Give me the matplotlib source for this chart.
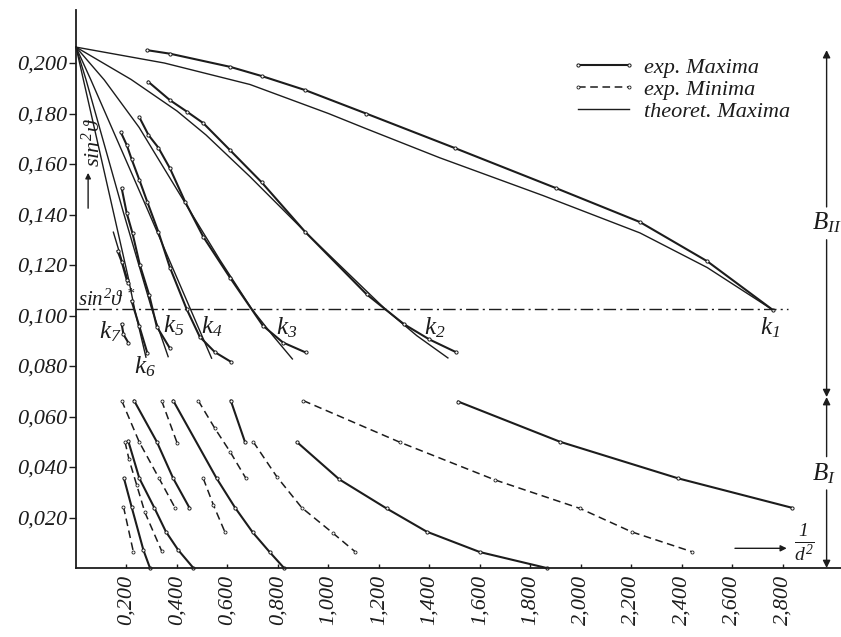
import matplotlib
matplotlib.use("Agg")
import matplotlib.pyplot as plt

plt.rcParams['font.family'] = ['Liberation Serif', 'DejaVu Serif']
plt.rcParams['font.style'] = 'italic'
plt.rcParams['mathtext.fontset'] = 'custom'
plt.rcParams['mathtext.rm'] = 'Liberation Serif:italic'
plt.rcParams['mathtext.it'] = 'Liberation Serif:italic'
plt.rcParams['mathtext.bf'] = 'Liberation Serif:italic:bold'

INK = '#1c1c1c'

# ---- axis ticks -------------------------------------------------------
x_ticks = [0.2, 0.4, 0.6, 0.8, 1.0, 1.2, 1.4, 1.6, 1.8, 2.0, 2.2, 2.4, 2.6, 2.8]
x_tick_labels = ['0,200', '0,400', '0,600', '0,800', '1,000', '1,200', '1,400',
                 '1,600', '1,800', '2,000', '2,200', '2,400', '2,600', '2,800']
y_ticks = [0.02, 0.04, 0.06, 0.08, 0.10, 0.12, 0.14, 0.16, 0.18, 0.20]
y_tick_labels = ['0,020', '0,040', '0,060', '0,080', '0,100',
                 '0,120', '0,140', '0,160', '0,180', '0,200']

# ---- region B_II : maxima converging to the k-points ---------------------
sin2_star = 0.1026          # critical sin^2(theta*)
sin2_star_xmax = 2.82

th1_x = [0, 0.35, 0.689, 1.0, 1.149, 1.44, 1.85, 2.234, 2.50, 2.76]
th1_y = [0.2063, 0.2000, 0.1915, 0.1800, 0.1740, 0.1625, 0.1475, 0.1327, 0.1190, 0.1022]
ex1_x = [0.281, 0.372, 0.610, 0.737, 0.907, 1.149, 1.501, 1.90, 2.234, 2.50, 2.76]
ex1_y = [0.2051, 0.2037, 0.1985, 0.1948, 0.1893, 0.1800, 0.1663, 0.1505, 0.1370, 0.1215, 0.1022]

th2_x = [0, 0.218, 0.40, 0.515, 0.689, 0.907, 1.224, 1.35, 1.473]
th2_y = [0.2063, 0.1935, 0.1810, 0.1715, 0.1550, 0.1332, 0.1026, 0.0920, 0.0832]
ex2_x = [0.286, 0.372, 0.440, 0.504, 0.610, 0.735, 0.907, 1.151, 1.30, 1.40, 1.507]
ex2_y = [0.1926, 0.1853, 0.1807, 0.1762, 0.1655, 0.1528, 0.1332, 0.1084, 0.0965, 0.0905, 0.0854]

th3_x = [0, 0.112, 0.25, 0.449, 0.57, 0.696, 0.78, 0.857]
th3_y = [0.2063, 0.1933, 0.1745, 0.1418, 0.1220, 0.1026, 0.0920, 0.0828]
ex3_x = [0.251, 0.287, 0.326, 0.372, 0.432, 0.504, 0.610, 0.74, 0.82, 0.909]
ex3_y = [0.1785, 0.1715, 0.1665, 0.1583, 0.1451, 0.1312, 0.1150, 0.0960, 0.0893, 0.0854]

th4_x = [0, 0.059, 0.284, 0.537]
th4_y = [0.2063, 0.1933, 0.1418, 0.0831]
ex4_x = [0.178, 0.201, 0.220, 0.251, 0.282, 0.326, 0.372, 0.438, 0.49, 0.55, 0.613]
ex4_y = [0.1725, 0.1675, 0.1620, 0.1537, 0.1451, 0.1332, 0.1190, 0.1026, 0.0916, 0.0855, 0.0817]

th5_x = [0, 0.040, 0.185, 0.30, 0.365]
th5_y = [0.2063, 0.1933, 0.1418, 0.1026, 0.0837]
ex5_x = [0.181, 0.201, 0.224, 0.253, 0.290, 0.320, 0.372]
ex5_y = [0.1504, 0.1405, 0.1325, 0.1200, 0.1081, 0.0956, 0.0870]

th6_x = [0, 0.207, 0.232, 0.277]
th6_y = [0.2063, 0.1150, 0.1026, 0.0835]
ex6a_x = [0.165, 0.181, 0.201, 0.207]
ex6a_y = [0.1255, 0.1213, 0.1141, 0.1128]
ex6b_x = [0.220, 0.250, 0.283]
ex6b_y = [0.1058, 0.0960, 0.0850]

th7_x = [0.148, 0.207]
th7_y = [0.1330, 0.1134]
ex7_x = [0.181, 0.188, 0.207]
ex7_y = [0.0966, 0.0925, 0.0893]

k_names = ['1', '2', '3', '4', '5', '6', '7']
k_label_x = [2.75, 1.422, 0.834, 0.537, 0.385, 0.273, 0.135]
k_label_y = [0.0950, 0.0950, 0.0950, 0.0956, 0.0958, 0.0797, 0.0936]

# ---- region B_I : experimental maxima (solid) and minima (dashed) -------
s1_x = [1.514, 1.917, 2.385, 2.834]
s1_y = [0.0659, 0.0500, 0.0355, 0.0239]
s2_x = [0.876, 1.043, 1.230, 1.389, 1.600, 1.864]
s2_y = [0.0498, 0.0351, 0.0236, 0.0144, 0.0063, 0.0]
s3_x = [0.613, 0.669]
s3_y = [0.0663, 0.0500]
s4_x = [0.385, 0.557, 0.630, 0.700, 0.768, 0.824]
s4_y = [0.0663, 0.0355, 0.0239, 0.0141, 0.0062, 0.0]
s5_x = [0.230, 0.320, 0.385, 0.449]
s5_y = [0.0663, 0.0500, 0.0355, 0.0239]
s6_x = [0.207, 0.251, 0.310, 0.356, 0.405, 0.465]
s6_y = [0.0503, 0.0355, 0.0239, 0.0144, 0.0071, 0.0]
s7_x = [0.190, 0.220, 0.267, 0.293]
s7_y = [0.0355, 0.0243, 0.0071, 0.0]

d1_x = [0.900, 1.283, 1.659, 1.996, 2.201, 2.438]
d1_y = [0.0663, 0.0498, 0.0349, 0.0236, 0.0143, 0.0065]
d2_x = [0.702, 0.795, 0.894, 1.019, 1.105]
d2_y = [0.0500, 0.0362, 0.0239, 0.0137, 0.0065]
d3_x = [0.484, 0.550, 0.610, 0.673]
d3_y = [0.0663, 0.0553, 0.0461, 0.0355]
d4_x = [0.504, 0.544, 0.590]
d4_y = [0.0355, 0.0250, 0.0142]
d5_x = [0.339, 0.401]
d5_y = [0.0663, 0.0494]
d6_x = [0.181, 0.250, 0.329, 0.392]
d6_y = [0.0663, 0.0500, 0.0355, 0.0239]
d7_x = [0.194, 0.210, 0.240, 0.273, 0.339]
d7_y = [0.0500, 0.0430, 0.0330, 0.0220, 0.0068]
d8_x = [0.188, 0.227]
d8_y = [0.0243, 0.0065]

# ---- region brackets on the right ---------------------------------------
band_x = 2.973
band_II = (0.0677, 0.2051)
band_I = (0.0, 0.0677)

# ---- figure --------------------------------------------------------------
fig = plt.figure(figsize=(8.41, 6.37), dpi=100)
ax = fig.add_axes([76 / 841, 69 / 637, 765 / 841, 558 / 637])
ax.set_xlim(0, 3.03)
ax.set_ylim(0, 0.221)

exp_style = dict(color=INK, lw=1.5, marker='o', ms=2.3, mfc='white', mec=INK, mew=0.7)
min_style = dict(color=INK, lw=1.1, ls=(0, (5, 3)), marker='o', ms=2.2, mfc='white',
                 mec=INK, mew=0.6)
th_style = dict(color=INK, lw=1.0)

theo = [(th1_x, th1_y), (th2_x, th2_y), (th3_x, th3_y), (th4_x, th4_y),
        (th5_x, th5_y), (th6_x, th6_y), (th7_x, th7_y)]
expmax = [(ex1_x, ex1_y), (ex2_x, ex2_y), (ex3_x, ex3_y), (ex4_x, ex4_y),
          (ex5_x, ex5_y), (ex6a_x, ex6a_y), (ex6b_x, ex6b_y), (ex7_x, ex7_y),
          (s1_x, s1_y), (s2_x, s2_y), (s3_x, s3_y), (s4_x, s4_y),
          (s5_x, s5_y), (s6_x, s6_y), (s7_x, s7_y)]
expmin = [(d1_x, d1_y), (d2_x, d2_y), (d3_x, d3_y), (d4_x, d4_y),
          (d5_x, d5_y), (d6_x, d6_y), (d7_x, d7_y), (d8_x, d8_y)]

h_th = h_ex = h_min = None
for xs, ys in theo:
    h_th, = ax.plot(xs, ys, **th_style, clip_on=False)
for xs, ys in expmax:
    h_ex, = ax.plot(xs, ys, **exp_style, clip_on=False)
for xs, ys in expmin:
    h_min, = ax.plot(xs, ys, **min_style, clip_on=False)

# critical line sin^2 theta*
ax.plot([0, sin2_star_xmax], [sin2_star, sin2_star], color=INK, lw=1.0,
        ls=(0, (9, 3, 1.5, 3)))
ax.text(0.008, sin2_star + 0.0012, r'$sin^2\vartheta^{\,*}$', fontsize=15,
        color=INK, ha='left', va='baseline')

# k labels
for name, lx, ly in zip(k_names, k_label_x, k_label_y):
    ax.text(lx, ly, r'$k_{%s}$' % name, fontsize=18, color=INK, ha='center', va='center')

# legend
leg = ax.legend([h_ex, h_min, h_th], ['exp. Maxima', 'exp. Minima', 'theoret. Maxima'],
                loc='upper left', bbox_to_anchor=(571 / 841, 1 - 57 / 637),
                bbox_transform=fig.transFigure, frameon=False, fontsize=16,
                handlelength=2.9, handletextpad=0.4, labelspacing=0.08,
                borderpad=0, borderaxespad=0, numpoints=2)
for t in leg.get_texts():
    t.set_color(INK)

# region brackets B_II and B_I
arrow = dict(arrowstyle='-|>', color=INK, lw=1.0, mutation_scale=11,
             shrinkA=0, shrinkB=0)
ax.annotate('', xy=(band_x, band_II[1]), xytext=(band_x, 0.143), arrowprops=arrow,
            annotation_clip=False)
ax.annotate('', xy=(band_x, band_II[0]), xytext=(band_x, 0.130), arrowprops=arrow,
            annotation_clip=False)
ax.text(band_x, 0.1366, r'$B_{II}$', fontsize=18, color=INK, ha='center', va='center')
ax.annotate('', xy=(band_x, band_I[1]), xytext=(band_x, 0.0441), arrowprops=arrow,
            annotation_clip=False)
ax.annotate('', xy=(band_x, band_I[0]), xytext=(band_x, 0.0309), arrowprops=arrow,
            annotation_clip=False)
ax.text(band_x - 0.012, 0.0372, r'$B_{I}$', fontsize=18, color=INK, ha='center', va='center')

# axis captions with arrows
ax.text(0.068, 0.1687, r'$sin^2\vartheta$', fontsize=16, color=INK, rotation=90,
        ha='center', va='center')
ax.annotate('', xy=(0.048, 0.1565), xytext=(0.048, 0.1425),
            arrowprops=dict(arrowstyle='-|>', color=INK, lw=1.0, mutation_scale=8,
                            shrinkA=0, shrinkB=0))
ax.annotate('', xy=(2.815, 0.0078), xytext=(2.61, 0.0078),
            arrowprops=dict(arrowstyle='-|>', color=INK, lw=1.0, mutation_scale=9,
                            shrinkA=0, shrinkB=0))
ax.text(2.885, 0.0098, r'$\frac{1}{d^2}$', fontsize=20, color=INK,
        ha='center', va='center')

# axes styling
for side in ('top', 'right'):
    ax.spines[side].set_visible(False)
for side in ('left', 'bottom'):
    ax.spines[side].set_linewidth(1.3)
    ax.spines[side].set_color(INK)

ax.set_xticks(x_ticks)
ax.set_xticklabels(x_tick_labels, rotation=90, fontsize=16, color=INK)
ax.set_yticks(y_ticks)
ax.set_yticklabels(y_tick_labels, fontsize=16, color=INK)
ax.tick_params(axis='y', direction='out', length=5, width=1.0, pad=1, color=INK)
ax.tick_params(axis='x', direction='in', length=3, width=1.0, pad=5, color=INK)

fig.savefig('out.png', dpi=100, facecolor='white')
